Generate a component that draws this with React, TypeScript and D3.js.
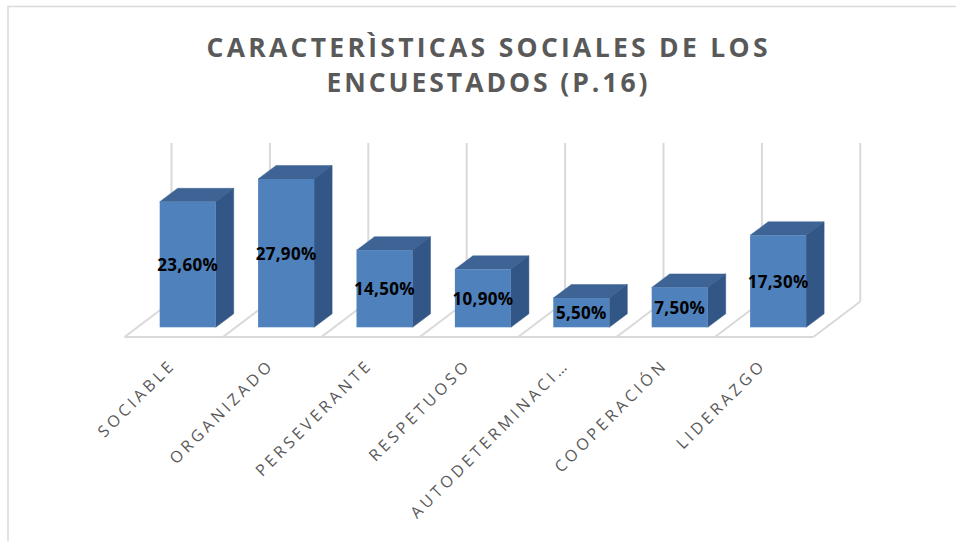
import React from "react";
import * as d3 from "d3";

const titleLines = ["CARACTERÌSTICAS SOCIALES DE LOS", "ENCUESTADOS (P.16)"];
const categories = [
  "SOCIABLE",
  "ORGANIZADO",
  "PERSEVERANTE",
  "RESPETUOSO",
  "AUTODETERMINACI…",
  "COOPERACIÓN",
  "LIDERAZGO",
];
const values = [23.6, 27.9, 14.5, 10.9, 5.5, 7.5, 17.3];
const valueDomain = [0, 30];

const W = 956;
const H = 543;

const floorLeft = 124.5;
const floorRight = 813.3;
const floorFrontY = 337;
const floorDx = 47;
const floorDy = -35.5;
const wallTopY = 143;

const barFrontShift = 14;
const barW = 56;
const barDx = 18;
const barDy = -13.5;
const baseY = 327.3;

const grid = "#D9D9D9";
const frontCol = "#4F81BD";
const topCol = "#3D6494";
const sideCol = "#325685";
const textGray = "#595959";

const fmt = (v: number) => v.toFixed(2).replace(".", ",") + "%";

export default function App() {
  const x = d3
    .scaleBand<string>()
    .domain(categories)
    .range([floorLeft, floorRight])
    .paddingInner(0)
    .paddingOuter(0);
  const y = d3
    .scaleLinear()
    .domain(valueDomain)
    .range([baseY, baseY - 5.317 * 30]);
  const bw = x.bandwidth();
  const boundaries = d3.range(categories.length + 1).map((i) => floorLeft + i * bw);

  return (
    <svg
      width={W}
      height={H}
      style={{ position: "absolute", left: 0, top: 0, background: "#fff" }}
      fontFamily="'Open Sans', 'Noto Sans', sans-serif"
    >
      <rect x={0} y={0} width={W} height={H} fill="#fff" />
      <path d={`M8,541 V6.5 H${W + 2}`} fill="none" stroke={grid} strokeWidth={1.5} />

      {titleLines.map((t, i) => (
        <text
          key={i}
          x={487}
          y={56.7 + i * 35.5}
          textAnchor="middle"
          fontSize={26.5}
          fontWeight={700}
          fill={textGray}
          textLength={i === 0 ? 561 : 321}
          lengthAdjust="spacing"
        >
          {t}
        </text>
      ))}

      {/* floor & back wall lines */}
      <line x1={floorLeft} x2={floorRight} y1={floorFrontY} y2={floorFrontY} stroke={grid} strokeWidth={2} />
      {boundaries.map((bx, i) => (
        <g key={i}>
          <line
            x1={bx}
            y1={floorFrontY}
            x2={bx + floorDx}
            y2={floorFrontY + floorDy}
            stroke={grid}
            strokeWidth={2}
          />
          <line
            x1={bx + floorDx}
            y1={floorFrontY + floorDy}
            x2={bx + floorDx}
            y2={wallTopY}
            stroke={grid}
            strokeWidth={2}
          />
        </g>
      ))}

      {/* bars */}
      {categories.map((c, i) => {
        const cx = (x(c) as number) + bw / 2 + barFrontShift;
        const L = cx - barW / 2;
        const R = cx + barW / 2;
        const T = y(values[i]);
        const B = y(0);
        return (
          <g key={c}>
            <polygon
              points={`${L},${T} ${L + barDx},${T + barDy} ${R + barDx},${T + barDy} ${R},${T}`}
              fill={topCol}
              stroke={topCol}
              strokeWidth={0.5}
            />
            <polygon
              points={`${R},${T} ${R + barDx},${T + barDy} ${R + barDx},${B + barDy} ${R},${B}`}
              fill={sideCol}
              stroke={sideCol}
              strokeWidth={0.5}
            />
            <rect x={L} y={T} width={barW} height={B - T} fill={frontCol} />
            <text
              x={cx}
              y={(T + B) / 2 + 6.5}
              textAnchor="middle"
              fontSize={17}
              fontWeight={700}
              fill="#000"
              letterSpacing={0.3}
            >
              {fmt(values[i])}
            </text>
          </g>
        );
      })}

      {/* category labels */}
      {categories.map((c) => {
        const ax = (x(c) as number) + bw / 2 + 3;
        const ay = 366;
        return (
          <text
            key={c}
            transform={`translate(${ax},${ay}) rotate(-45)`}
            textAnchor="end"
            fontSize={16}
            fill={textGray}
            letterSpacing={3.6}
          >
            {c}
          </text>
        );
      })}
    </svg>
  );
}
